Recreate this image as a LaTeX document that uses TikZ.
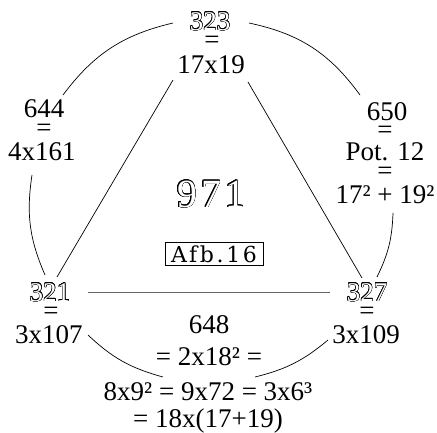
\documentclass[tikz,border=0pt]{standalone}
\usepackage{fontspec}
\setmainfont{Liberation Serif}
\newfontfamily\boxfont[LetterSpace=12]{DejaVu Serif}
\newfontfamily\bigfont[LetterSpace=10]{Liberation Serif}
\usepackage{contour}
\contourlength{0.45pt}
\newcommand\hollowtxt[1]{\contour{black}{\textcolor{white}{#1}}}
\begin{document}
\begin{tikzpicture}[x=1pt,y=-1pt,
  num/.style={anchor=base, inner sep=0pt, font=\fontsize{27}{29}\selectfont},
  bignum/.style={anchor=base, inner sep=0pt, font=\bigfont\fontsize{40}{44}\selectfont},
  boxed/.style={draw, line width=0.6pt, inner sep=0pt, minimum width=98pt, minimum height=23pt, font=\boxfont\fontsize{22}{24}\selectfont},
  lnk/.style={line width=0.7pt},
  arcl/.style={line width=0.7pt},
  midline/.style={line width=1pt, draw=black!60}
]
\useasboundingbox (0,0) rectangle (437,432);

\node[num] (a1) at (210,30) {\hollowtxt{323}};
\node[num] (a2) at (212,48) {=};
\node[num] (a3) at (211,73) {17x19};

\node[num] (b1) at (44,117) {644};
\node[num] (b2) at (44,136) {=};
\node[num] (b3) at (42,160) {4x161};

\node[num] (c1) at (387,120) {650};
\node[num] (c2) at (385,138) {=};
\node[num] (c3) at (385,160) {Pot. 12};
\node[num] (c4) at (385,179) {=};
\node[num] (c5) at (385,203) {17² + 19²};

\node[bignum] (m) at (211,207) {\hollowtxt{971}};
\node[boxed] (afb) at (214,254) {Afb.16};

\node[num] (d1) at (50,301) {\hollowtxt{321}};
\node[num] (d2) at (51,319) {=};
\node[num] (d3) at (49,343) {3x107};

\node[num] (e1) at (367,301) {\hollowtxt{327}};
\node[num] (e2) at (367,319) {=};
\node[num] (e3) at (366,343) {3x109};

\node[num] (f1) at (209,333) {648};
\node[num] (f2) at (209,365) {= 2x18² =};
\node[num] (f3) at (208,400) {8x9² = 9x72 = 3x6³};
\node[num] (f4) at (208,427) {= 18x(17+19)};

% outer arcs
\draw[arcl] ([shift={(-37,-7)}]a1.base) to[bend right=20] ([shift={(19,-22)}]b1.base);
\draw[arcl] ([shift={(-10,15)}]b3.base) to[bend right=16] ([shift={(-5,-26)}]d1.base);
\draw[arcl] ([shift={(39,-8)}]d3.base) to[bend right=14] ([shift={(-45,-23)}]f3.base);
\draw[arcl] ([shift={(47,-23)}]f3.base) to[bend right=13] ([shift={(-38,-3)}]e3.base);
\draw[arcl] ([shift={(10,-24)}]e1.base) to[bend right=12] ([shift={(8,10)}]c5.base);
\draw[arcl] ([shift={(-27,-25)}]c1.base) to[bend right=21] ([shift={(39,-7)}]a1.base);

% triangle
\draw[lnk] ([shift={(-38,7)}]a3.base) -- ([shift={(7,-24)}]d1.base);
\draw[lnk] ([shift={(37,9)}]a3.base) -- ([shift={(-5,-23)}]e1.base);
\draw[midline] ([shift={(38,-9)}]d1.base) -- ([shift={(-37,-9)}]e1.base);
\end{tikzpicture}
\end{document}
